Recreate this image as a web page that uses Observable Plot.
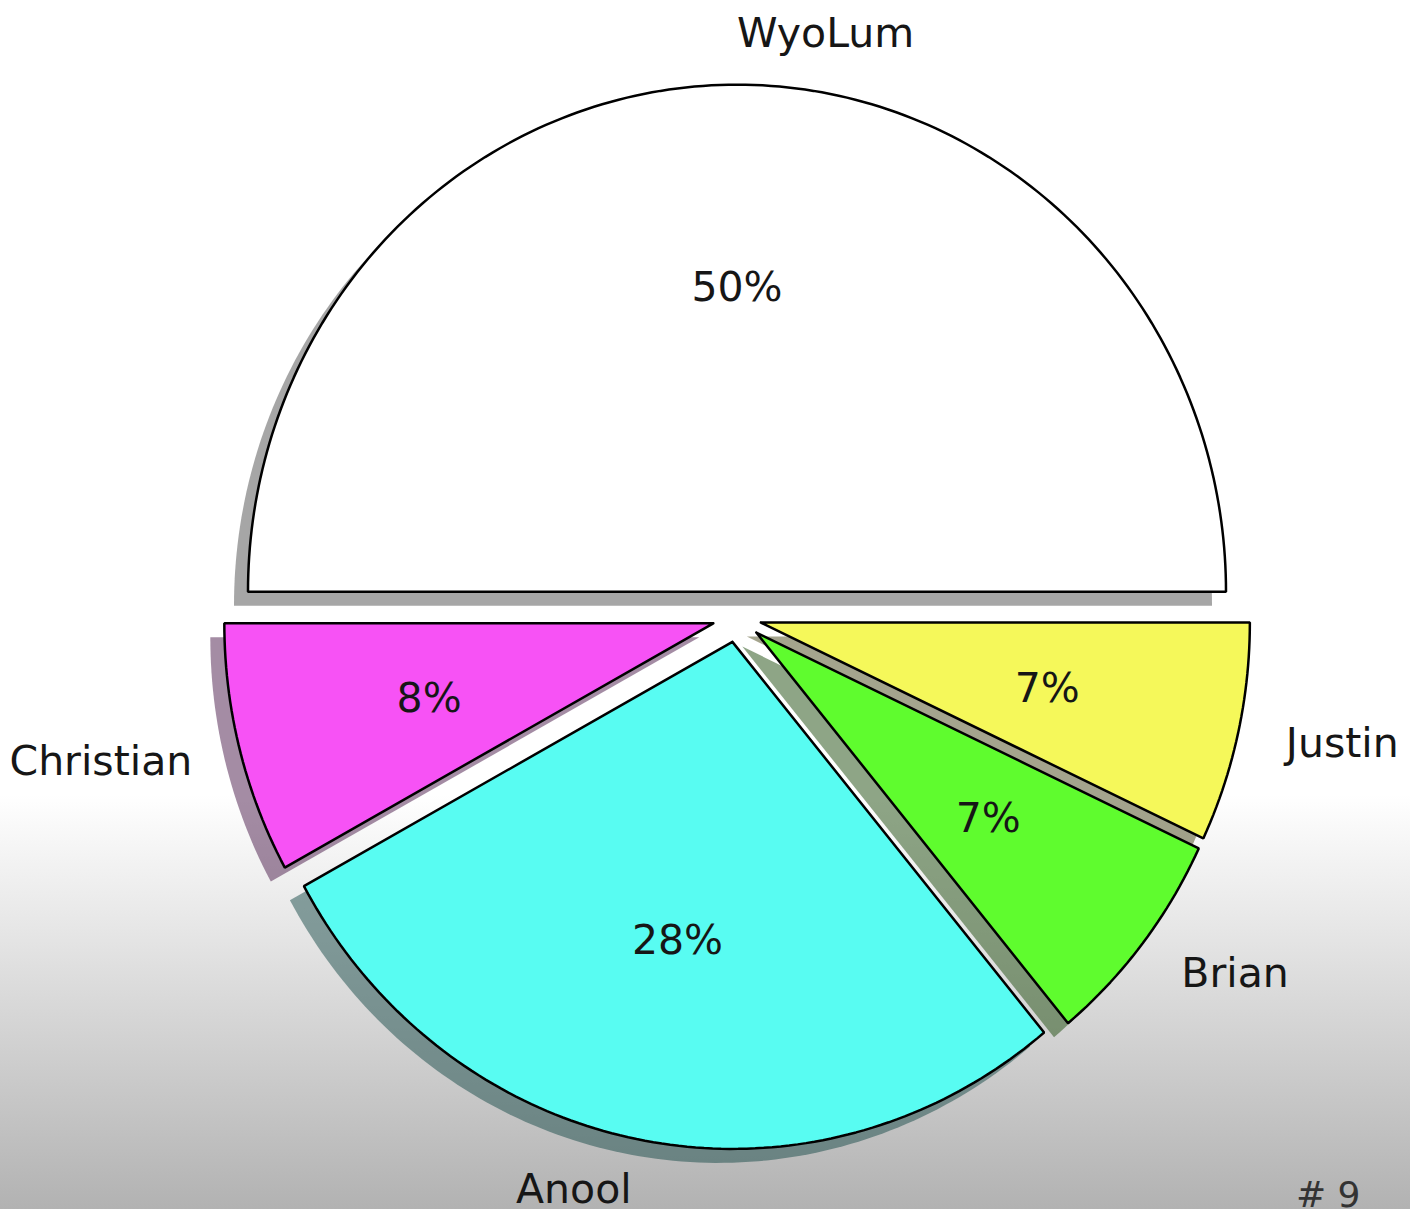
<!DOCTYPE html>
<html>
<head>
<meta charset="utf-8">
<script src="https://cdn.jsdelivr.net/npm/d3@7"></script>
<script src="https://cdn.jsdelivr.net/npm/@observablehq/plot@0.6"></script>
<style>
  html, body { margin: 0; padding: 0; }
  body {
    width: 1410px; height: 1209px; overflow: hidden;
    background: linear-gradient(to bottom, #ffffff 0px, #ffffff 795px, #b2b2b2 1209px);
  }
  #chart svg { display: block; }
</style>
</head>
<body>
<div id="chart"></div>
<script>
// ---- data ----
const labels = ["WyoLum", "Christian", "Anool", "Brian", "Justin"];
const shares = [50, 8, 28, 7, 7];
const pctLabels = ["50%", "8%", "28%", "7%", "7%"];
const colors = ["#ffffff", "#f752f5", "#58fcf2", "#5ffc2e", "#f5f85a"];
const explode = [0.05, 0.05, 0.05, 0.05, 0.05];
const slideNumber = "# 9";

// ---- layout (pixels) ----
const W = 1410, H = 1209;
const cxPx = 736.5, cyPx = 616.5, rxPx = 489, ryPx = 507;
const FONT = "DejaVu Sans";

// ---- geometry in data units (unit radius, counter-clockwise from 0 deg) ----
const total = d3.sum(shares);
const slices = [];
let acc = 0;
shares.forEach((v, i) => {
  const t1 = acc / total * 2 * Math.PI;
  const t2 = (acc + v) / total * 2 * Math.PI;
  acc += v;
  const mid = (t1 + t2) / 2;
  const ox = explode[i] * Math.cos(mid), oy = explode[i] * Math.sin(mid);
  const pts = [{x: ox, y: oy}];
  const n = Math.max(8, Math.ceil((t2 - t1) / (Math.PI / 180)));
  for (let k = 0; k <= n; k++) {
    const t = t1 + (t2 - t1) * k / n;
    pts.push({x: ox + Math.cos(t), y: oy + Math.sin(t)});
  }
  pts.push({x: ox, y: oy});
  const c = d3.rgb(colors[i]);
  slices.push({
    name: labels[i], pct: pctLabels[i], color: colors[i],
    shadow: d3.rgb(c.r * 0.3, c.g * 0.3, c.b * 0.3).formatHex(),
    pts, mid, ox, oy
  });
});

const marks = [];
// shadows first
for (const s of slices) {
  marks.push(Plot.line(s.pts, {x: "x", y: "y", fill: s.shadow, fillOpacity: 0.5, stroke: "none", dx: -14, dy: 14, curve: "linear"}));
}
// wedges
for (const s of slices) {
  marks.push(Plot.line(s.pts, {x: "x", y: "y", fill: s.color, stroke: "#000", strokeWidth: 2.5, strokeLinejoin: "miter", curve: "linear"}));
}
// labels at 1.1 radius, percentages at 0.6 radius
for (const s of slices) {
  const right = Math.cos(s.mid) > 0;
  marks.push(Plot.text([s], {
    x: d => d.ox + 1.1 * Math.cos(d.mid),
    y: d => d.oy + 1.1 * Math.sin(d.mid),
    text: d => d.name,
    textAnchor: right ? "start" : "end",
    fontSize: 41, fontFamily: FONT, fill: "#161616"
  }));
  marks.push(Plot.text([s], {
    x: d => d.ox + 0.6 * Math.cos(d.mid),
    y: d => d.oy + 0.6 * Math.sin(d.mid),
    text: d => d.pct,
    textAnchor: "middle",
    fontSize: 41, fontFamily: FONT, fill: "#161616"
  }));
}
marks.push(Plot.text([slideNumber], {
  text: d => d, frameAnchor: "bottom-right", dx: -50, dy: -3,
  fontSize: 36, fontFamily: FONT, fill: "#333333"
}));

const chart = Plot.plot({
  width: W, height: H,
  margin: 0,
  x: {domain: [-cxPx / rxPx, (W - cxPx) / rxPx], range: [0, W], axis: null},
  y: {domain: [(cyPx - H) / ryPx, cyPx / ryPx], range: [H, 0], axis: null},
  style: {background: "none", overflow: "visible"},
  marks
});
document.getElementById("chart").appendChild(chart);
</script>
</body>
</html>
